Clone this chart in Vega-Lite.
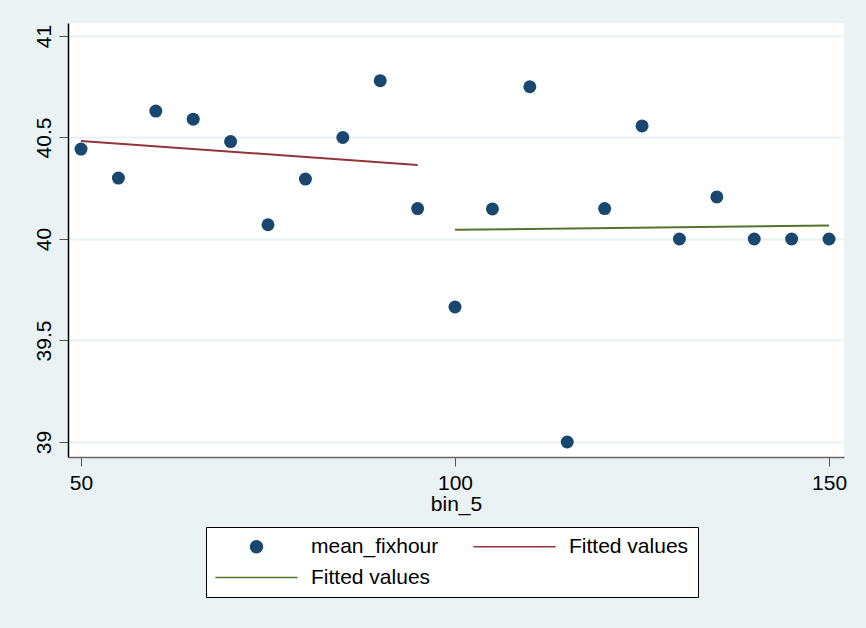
{
  "$schema": "https://vega.github.io/schema/vega-lite/v6.json",
  "autosize": {"type": "none"},
  "width": 776,
  "height": 434,
  "padding": {"left": 68, "top": 23, "right": 22, "bottom": 171},
  "background": "#EAF2F3",
  "config": {
    "view": {"fill": "white", "stroke": null},
    "font": "Liberation Sans",
    "axis": {
      "labelFont": "Liberation Sans",
      "titleFont": "Liberation Sans",
      "labelFontSize": 21,
      "titleFontSize": 21,
      "titleFontWeight": "normal",
      "labelColor": "black",
      "titleColor": "black",
      "tickColor": "#555555",
      "tickSize": 9,
      "gridColor": "#EAF2F3",
      "gridWidth": 2
    },
    "legend": {
      "labelFont": "Liberation Sans",
      "labelFontSize": 21,
      "labelColor": "black"
    }
  },
  "datasets": {
    "points": [
      {"bin_5": 50, "mean_fixhour": 40.443, "series": "mean_fixhour"},
      {"bin_5": 55, "mean_fixhour": 40.30, "series": "mean_fixhour"},
      {"bin_5": 60, "mean_fixhour": 40.63, "series": "mean_fixhour"},
      {"bin_5": 65, "mean_fixhour": 40.59, "series": "mean_fixhour"},
      {"bin_5": 70, "mean_fixhour": 40.48, "series": "mean_fixhour"},
      {"bin_5": 75, "mean_fixhour": 40.07, "series": "mean_fixhour"},
      {"bin_5": 80, "mean_fixhour": 40.295, "series": "mean_fixhour"},
      {"bin_5": 85, "mean_fixhour": 40.50, "series": "mean_fixhour"},
      {"bin_5": 90, "mean_fixhour": 40.78, "series": "mean_fixhour"},
      {"bin_5": 95, "mean_fixhour": 40.15, "series": "mean_fixhour"},
      {"bin_5": 100, "mean_fixhour": 39.665, "series": "mean_fixhour"},
      {"bin_5": 105, "mean_fixhour": 40.148, "series": "mean_fixhour"},
      {"bin_5": 110, "mean_fixhour": 40.75, "series": "mean_fixhour"},
      {"bin_5": 115, "mean_fixhour": 39.0, "series": "mean_fixhour"},
      {"bin_5": 120, "mean_fixhour": 40.15, "series": "mean_fixhour"},
      {"bin_5": 125, "mean_fixhour": 40.557, "series": "mean_fixhour"},
      {"bin_5": 130, "mean_fixhour": 40.0, "series": "mean_fixhour"},
      {"bin_5": 135, "mean_fixhour": 40.207, "series": "mean_fixhour"},
      {"bin_5": 140, "mean_fixhour": 40.0, "series": "mean_fixhour"},
      {"bin_5": 145, "mean_fixhour": 40.0, "series": "mean_fixhour"},
      {"bin_5": 150, "mean_fixhour": 40.0, "series": "mean_fixhour"}
    ],
    "fits": [
      {"bin_5": 50, "fitted": 40.483, "series": "Fitted values"},
      {"bin_5": 95, "fitted": 40.365, "series": "Fitted values"},
      {"bin_5": 100, "fitted": 40.045, "series": "Fitted values_2"},
      {"bin_5": 150, "fitted": 40.066, "series": "Fitted values_2"}
    ]
  },
  "layer": [
    {
      "data": {"name": "points"},
      "mark": {"type": "point", "filled": true, "opacity": 1, "size": 169},
      "encoding": {
        "x": {
          "field": "bin_5", "type": "quantitative",
          "scale": {"domain": [48.26, 152.0], "nice": false, "zero": false},
          "axis": {
            "title": "bin_5",
            "values": [50, 100, 150],
            "grid": false,
            "domainColor": "#666666",
            "domainWidth": 1.5,
            "labelPadding": 6,
            "titlePadding": 0
          }
        },
        "y": {
          "field": "mean_fixhour", "type": "quantitative",
          "scale": {"domain": [38.926, 41.064], "nice": false, "zero": false},
          "axis": {
            "title": null,
            "values": [39, 39.5, 40, 40.5, 41],
            "format": "~g",
            "labelAngle": -90,
            "labelAlign": "center",
            "labelBaseline": "bottom",
            "labelPadding": 5,
            "domainColor": "black",
            "domainWidth": 1.5
          }
        },
        "color": {
          "field": "series", "type": "nominal",
          "scale": {
            "domain": ["mean_fixhour", "Fitted values_2", "Fitted values"],
            "range": ["#1a476f", "#55752f", "#90353b"]
          },
          "legend": {
            "title": null,
            "orient": "none",
            "legendX": 138,
            "legendY": 504,
            "columns": 2,
            "symbolSize": 144,
            "symbolOffset": 31,
            "labelOffset": 44,
            "columnPadding": 31,
            "rowPadding": 9,
            "padding": 9,
            "fillColor": "white",
            "strokeColor": "black",
            "labelExpr": "datum.label == 'Fitted values_2' ? 'Fitted values' : datum.label",
            "encode": {
              "symbols": {
                "update": {
                  "fill": {"scale": "color", "field": "value"},
                  "stroke": {"scale": "color", "field": "value"},
                  "strokeWidth": {"signal": "datum.value == 'mean_fixhour' ? 0 : 2"},
                  "opacity": {"value": 1}
                }
              }
            }
          }
        },
        "shape": {
          "field": "series", "type": "nominal",
          "scale": {
            "domain": ["mean_fixhour", "Fitted values_2", "Fitted values"],
            "range": ["circle", "M-6.85,0H6.85", "M-6.85,0H6.85"]
          },
          "legend": {
            "title": null,
            "orient": "none",
            "legendX": 138,
            "legendY": 504,
            "columns": 2,
            "symbolSize": 144,
            "symbolOffset": 31,
            "labelOffset": 44,
            "columnPadding": 31,
            "rowPadding": 9,
            "padding": 9,
            "fillColor": "white",
            "strokeColor": "black",
            "labelExpr": "datum.label == 'Fitted values_2' ? 'Fitted values' : datum.label",
            "encode": {
              "symbols": {
                "update": {
                  "fill": {"scale": "color", "field": "value"},
                  "stroke": {"scale": "color", "field": "value"},
                  "strokeWidth": {"signal": "datum.value == 'mean_fixhour' ? 0 : 2"},
                  "opacity": {"value": 1}
                }
              }
            }
          }
        }
      }
    },
    {
      "data": {"name": "fits"},
      "mark": {"type": "line", "strokeWidth": 2},
      "encoding": {
        "x": {"field": "bin_5", "type": "quantitative"},
        "y": {"field": "fitted", "type": "quantitative"},
        "color": {"field": "series", "type": "nominal"},
        "detail": {"field": "series", "type": "nominal"}
      }
    }
  ]
}
